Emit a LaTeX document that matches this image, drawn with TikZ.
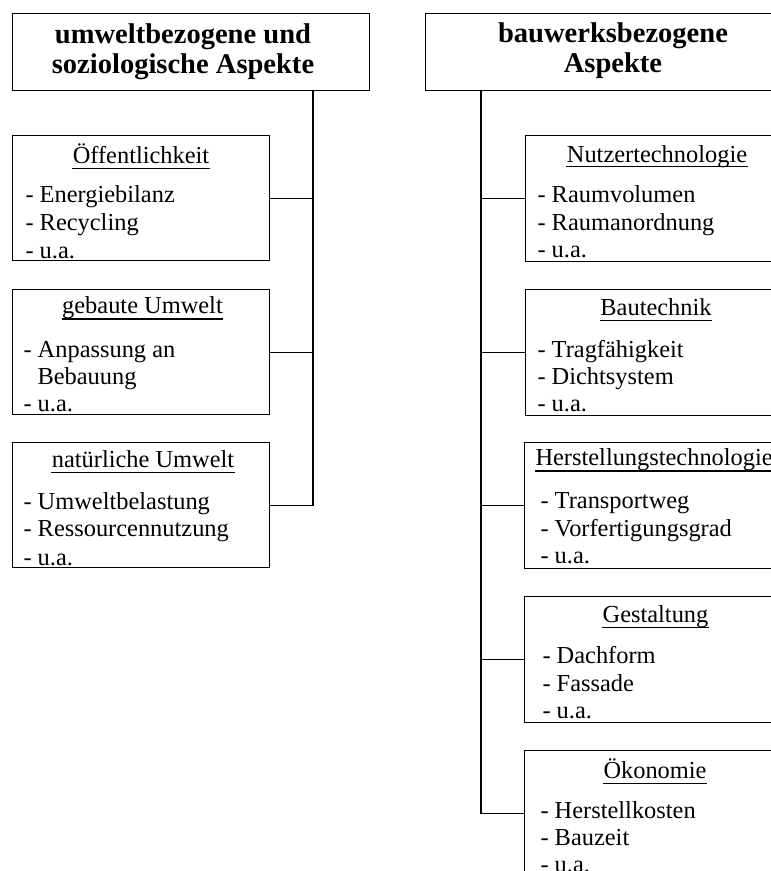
\documentclass[tikz,border=0pt]{standalone}
\usepackage{fontspec}
\setmainfont{Liberation Serif}
\begin{document}
\begin{tikzpicture}[x=0.75pt,y=-0.75pt,
  line width=0.8pt,
  frame/.style={draw=black, inner sep=0pt, anchor=north west},
  lbox/.style={frame, minimum width=192.75pt, minimum height=94pt},
  rbox/.style={frame, minimum width=202.5pt, minimum height=94.5pt},
  head/.style={inner sep=0pt, anchor=base, font=\fontsize{21.4}{24}\selectfont\bfseries},
  ttl/.style={inner sep=0pt, anchor=base, font=\fontsize{18.3}{22}\selectfont},
  ttlw/.style={inner sep=0pt, anchor=base west, font=\fontsize{18.3}{22}\selectfont},
  itm/.style={inner sep=0pt, anchor=base west, font=\fontsize{18.3}{22}\selectfont},
  uline/.style={line width=0.8pt},
  link/.style={line width=0.8pt}]
\useasboundingbox (0,0) rectangle (771,871);
\clip (0,0) rectangle (771,871);

% ---------------- left column ----------------
\node[frame, minimum width=267.75pt, minimum height=57.75pt] (T1) at (12,13) {};
\node[head] (h1a) at (183,43) {umweltbezogene und};
\node[head] (h1b) at (183,73) {soziologische Aspekte};

\node[lbox] (B1) at (12,135) {};
\node[ttl] (t1) at (141,163.5) {Öffentlichkeit};
\draw[uline] ([yshift=-3.5pt]t1.base west) -- ([yshift=-3.5pt]t1.base east);
\node[itm] (i11) at (25,202) {- Energiebilanz};
\node[itm] (i12) at (25,230) {- Recycling};
\node[itm] (i13) at (25,258) {- u.a.};

\node[lbox] (B2) at (12,289) {};
\node[ttl] (t2) at (142.5,313) {gebaute Umwelt};
\draw[uline] ([yshift=-4.5pt]t2.base west) -- ([yshift=-4.5pt]t2.base east);
\node[itm] (i21) at (23,357) {- Anpassung an};
\node[itm] (i22) at (37,384) {Bebauung};
\node[itm] (i23) at (23,411) {- u.a.};

\node[lbox] (B3) at (12,442) {};
\node[ttl] (t3) at (143,467) {natürliche Umwelt};
\draw[uline] ([yshift=-3.8pt]t3.base west) -- ([yshift=-3.8pt]t3.base east);
\node[itm] (i31) at (23,509) {- Umweltbelastung};
\node[itm] (i32) at (23,536) {- Ressourcennutzung};
\node[itm] (i33) at (23,565) {- u.a.};

\coordinate (V1) at (313,0);
\draw[link] (T1.south -| V1) |- (B3.east);
\draw[link] (B1.east) -- (B1.east -| V1);
\draw[link] (B2.east) -- (B2.east -| V1);

% ---------------- right column ----------------
\node[frame, minimum width=281.25pt, minimum height=57.75pt] (T2) at (425,13) {};
\node[head] (h2a) at (613,42) {bauwerksbezogene};
\node[head] (h2b) at (613,72) {Aspekte};

\node[rbox] (R1) at (525,135) {};
\node[ttl] (r1) at (657,162) {Nutzertechnologie};
\draw[uline] ([yshift=-3.5pt]r1.base west) -- ([yshift=-3.5pt]r1.base east);
\node[itm] (j11) at (537,202) {- Raumvolumen};
\node[itm] (j12) at (537,230) {- Raumanordnung};
\node[itm] (j13) at (537,257) {- u.a.};

\node[rbox] (R2) at (525,289) {};
\node[ttl] (r2) at (656,315) {Bautechnik};
\draw[uline] ([yshift=-3.8pt]r2.base west) -- ([yshift=-3.8pt]r2.base east);
\node[itm] (j21) at (537,357) {- Tragfähigkeit};
\node[itm] (j22) at (537,384) {- Dichtsystem};
\node[itm] (j23) at (537,411) {- u.a.};

\node[rbox] (R3) at (524,442) {};
\node[ttlw] (r3) at (535,465) {Herstellungstechnologie};
\draw[uline] ([yshift=-4.5pt]r3.base west) -- ([yshift=-4.5pt]r3.base east);
\node[itm] (j31) at (540,508) {- Transportweg};
\node[itm] (j32) at (540,536) {- Vorfertigungsgrad};
\node[itm] (j33) at (540,563) {- u.a.};

\node[rbox] (R4) at (524,596) {};
\node[ttl] (r4) at (655.5,622) {Gestaltung};
\draw[uline] ([yshift=-3.8pt]r4.base west) -- ([yshift=-3.8pt]r4.base east);
\node[itm] (j41) at (542,663) {- Dachform};
\node[itm] (j42) at (542,691) {- Fassade};
\node[itm] (j43) at (542,718) {- u.a.};

\node[rbox] (R5) at (524,750) {};
\node[ttl] (r5) at (655,778) {Ökonomie};
\draw[uline] ([yshift=-3.8pt]r5.base west) -- ([yshift=-3.8pt]r5.base east);
\node[itm] (j51) at (540,818) {- Herstellkosten};
\node[itm] (j52) at (540,845) {- Bauzeit};
\node[itm] (j53) at (540,872) {- u.a.};

\coordinate (V2) at (481,0);
\draw[link] (T2.south -| V2) |- (R5.west);
\draw[link] (R1.west) -- (R1.west -| V2);
\draw[link] (R2.west) -- (R2.west -| V2);
\draw[link] (R3.west) -- (R3.west -| V2);
\draw[link] (R4.west) -- (R4.west -| V2);
\end{tikzpicture}
\end{document}
